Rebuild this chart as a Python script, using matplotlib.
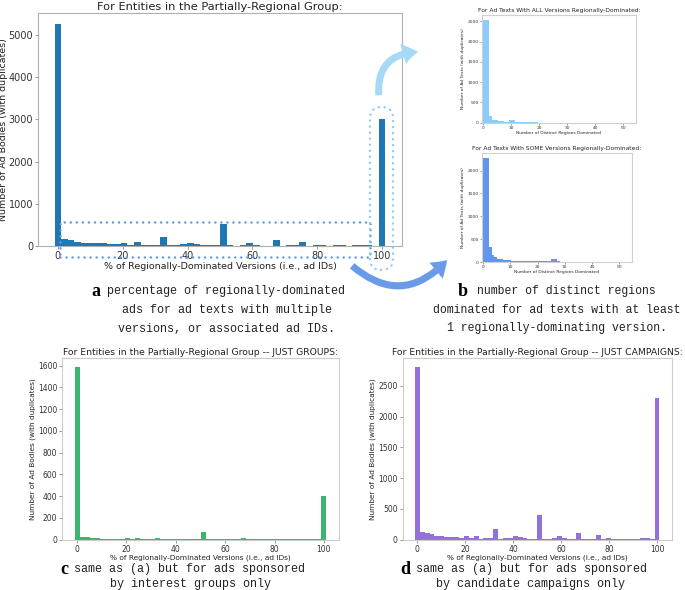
import numpy as np
import matplotlib
matplotlib.use('Agg')
import matplotlib.pyplot as plt
from matplotlib.patches import FancyArrowPatch, FancyBboxPatch, Rectangle

# bin edges of the percentage histograms (50 bins) and of the region-count histograms
pct_edges = np.linspace(-1, 101, 51)
region_edges = np.linspace(0, 52, 51)

# (a) all entities in the partially-regional group
all_counts = [5260, 160, 135, 100, 80, 75, 70, 65, 55, 40,
              70, 30, 85, 15, 30, 25, 220, 15, 15, 45,
              70, 45, 25, 15, 15, 510, 15, 10, 30, 70,
              20, 10, 10, 135, 10, 20, 15, 85, 10, 30,
              15, 10, 15, 15, 10, 15, 30, 25, 10, 3010]
# (c) just groups
group_counts = [1590, 25, 22, 15, 12, 10, 10, 10, 8, 8,
                12, 5, 12, 3, 5, 5, 15, 3, 3, 5,
                5, 3, 3, 3, 3, 68, 3, 3, 5, 5,
                3, 2, 2, 12, 3, 2, 5, 5, 5, 10,
                8, 5, 10, 5, 3, 2, 2, 3, 2, 405]
# (d) just campaigns
campaign_counts = [2810, 125, 110, 90, 65, 60, 45, 45, 40, 30,
                   55, 20, 65, 12, 25, 20, 175, 10, 20, 30,
                   55, 45, 20, 10, 12, 395, 15, 10, 25, 60,
                   20, 5, 5, 110, 10, 15, 10, 70, 5, 25,
                   10, 8, 10, 10, 5, 5, 30, 25, 10, 2300]
# (b) number of distinct regions dominated
all_dom_regions = [2530, 2530, 155, 57, 57, 40, 40, 25, 12, 55,
                   55, 10, 10, 8, 8, 6, 6, 5, 5, 4,
                   3, 2, 2, 0, 0, 0, 0, 0, 0, 0,
                   0, 0, 0, 0, 0, 0, 0, 0, 0, 0,
                   0, 0, 0, 0, 0, 0, 0, 0, 0, 0]
some_dom_regions = [2270, 2270, 333, 145, 100, 72, 58, 43, 43, 36,
                    29, 22, 18, 17, 16, 15, 15, 14, 14, 13,
                    12, 12, 12, 12, 70, 70, 20, 6, 5, 5,
                    5, 4, 4, 3, 3, 3, 2, 2, 2, 1,
                    1, 1, 1, 0, 0, 0, 0, 0, 0, 0]

W, H = 685, 590
fig = plt.figure(figsize=(6.85, 5.9), dpi=100)


def px_axes(x0, y0, x1, y1):
    # axes from pixel corners (top-left origin)
    return fig.add_axes([x0 / W, 1 - y1 / H, (x1 - x0) / W, (y1 - y0) / H])


def style(ax, tick_size, spine_col):
    for s in ax.spines.values():
        s.set_color(spine_col)
        s.set_linewidth(0.8)
    ax.tick_params(labelsize=tick_size, length=2, width=0.6, color='#888888',
                   labelcolor='#333333', pad=1.5)


def pct_hist(ax, counts, color, title, tsize, lsize, ksize, spine_col):
    ax.bar(pct_edges[:-1], counts, width=np.diff(pct_edges), align='edge',
           color=color, linewidth=0)
    ax.set_xlim(-6.1, 106.1)
    ax.set_ylim(0, max(counts) * 1.05)
    ax.set_xticks([0, 20, 40, 60, 80, 100])
    ax.set_title(title, fontsize=tsize, pad=2, color='#222222')
    ax.set_xlabel('% of Regionally-Dominated Versions (i.e., ad IDs)',
                  fontsize=lsize, labelpad=0.5, color='#222222')
    ax.set_ylabel('Number of Ad Bodies (with duplicates)', fontsize=lsize,
                  labelpad=1.5, color='#222222')
    style(ax, ksize, spine_col)


def region_hist(ax, counts, color, title, yticks):
    ax.bar(region_edges[:-1], counts, width=np.diff(region_edges), align='edge',
           color=color, linewidth=0)
    ax.set_xlim(-0.4, 54.6)
    ax.set_ylim(0, max(counts) * 1.05)
    ax.set_xticks([0, 10, 20, 30, 40, 50])
    ax.set_yticks(yticks)
    ax.set_title(title, fontsize=4.3, pad=2, color='#222222')
    ax.set_xlabel('Number of Distinct Regions Dominated', fontsize=3.2,
                  labelpad=0.5, color='#222222')
    ax.set_ylabel('Number of Ad Texts (with duplicates)', fontsize=3.2,
                  labelpad=1.5, color='#222222')
    style(ax, 3.2, '#d0d0d0')
    ax.tick_params(length=1.5, pad=1)


ax_a = px_axes(38, 13, 402, 246)
pct_hist(ax_a, all_counts, '#1f77b4',
         'For Entities in the Partially-Regional Group:', 8.2, 6.8, 7.0, '#b0b0b0')
ax_a.set_yticks([0, 1000, 2000, 3000, 4000, 5000])
ax_a.yaxis.labelpad = 0.5

ax_b1 = px_axes(482, 15, 636, 122.7)
region_hist(ax_b1, all_dom_regions, '#87cefa',
            'For Ad Texts With ALL Versions Regionally-Dominated:',
            [0, 500, 1000, 1500, 2000, 2500])
ax_b2 = px_axes(482, 153, 632, 262)
region_hist(ax_b2, some_dom_regions, '#6495ed',
            'For Ad Texts With SOME Versions Regionally-Dominated:',
            [0, 500, 1000, 1500, 2000])

ax_c = px_axes(62, 358, 339, 539.7)
pct_hist(ax_c, group_counts, '#3cb371',
         'For Entities in the Partially-Regional Group -- JUST GROUPS:',
         6.7, 5.35, 5.5, '#cccccc')
ax_c.set_yticks(np.arange(0, 1601, 200))

ax_d = px_axes(402.7, 358, 671.7, 539.7)
pct_hist(ax_d, campaign_counts, '#9370db',
         'For Entities in the Partially-Regional Group -- JUST CAMPAIGNS:',
         6.7, 5.35, 5.5, '#cccccc')
ax_d.set_yticks(np.arange(0, 2501, 500))

# captions
mono = 'Liberation Mono'
serif = 'Liberation Serif'


def caption(letter, lx, first, fx, rest, cx, ys, size=8.5):
    fig.text(lx / W, 1 - ys[0] / H, letter, fontsize=13, fontweight='bold',
             family=serif, ha='center', va='center')
    fig.text(fx / W, 1 - ys[0] / H, first, fontsize=size, family=mono,
             ha='left', va='center', color='#222222')
    for line, y in zip(rest, ys[1:]):
        fig.text(cx / W, 1 - y / H, line, fontsize=size, family=mono,
                 ha='center', va='center', color='#222222')


caption('a', 96, 'percentage of regionally-dominated', 107,
        ['ads for ad texts with multiple',
         'versions, or associated ad IDs.'], 227, [291, 310, 329])
caption('b', 463, 'number of distinct regions', 477,
        ['dominated for ad texts with at least',
         '1 regionally-dominating version.'], 557, [291, 310, 328], size=8.3)
caption('c', 64, 'same as (a) but for ads sponsored', 74,
        ['by interest groups only'], 190, [569, 584])
caption('d', 405, 'same as (a) but for ads sponsored', 416,
        ['by candidate campaigns only'], 531, [569, 584])

# annotation overlays (pixel -> inches, origin bottom-left)
tr = fig.dpi_scale_trans


def inch(x, y):
    return (x / 100, (H - y) / 100)


dots = (0, (0.01, 2.4))
zoom_box = Rectangle(inch(60, 257), 3.10, 0.35, transform=tr, fill=False,
                     edgecolor='#5b9be6', linewidth=1.8, linestyle=dots,
                     capstyle='round')
fig.patches.append(zoom_box)
pill = FancyBboxPatch(inch(370, 270), 0.23, 1.63, transform=tr, fill=False,
                      boxstyle='round,pad=0,rounding_size=0.11',
                      edgecolor='#8ecbf5', linewidth=1.8, linestyle=dots,
                      capstyle='round')
fig.patches.append(pill)

arrow_all = FancyArrowPatch(inch(379, 98), inch(421, 52), transform=tr,
                            connectionstyle='arc3,rad=-0.55',
                            arrowstyle='simple,head_length=1.1,head_width=1.5,tail_width=0.5',
                            mutation_scale=10, color='#a6d8f7', linewidth=0)
fig.patches.append(arrow_all)
arrow_some = FancyArrowPatch(inch(350, 264), inch(449, 258), transform=tr,
                             connectionstyle='arc3,rad=0.5',
                             arrowstyle='simple,head_length=1.1,head_width=1.5,tail_width=0.5',
                             mutation_scale=10, color='#6a9be8', linewidth=0)
fig.patches.append(arrow_some)

fig.savefig('out.png', dpi=100)
